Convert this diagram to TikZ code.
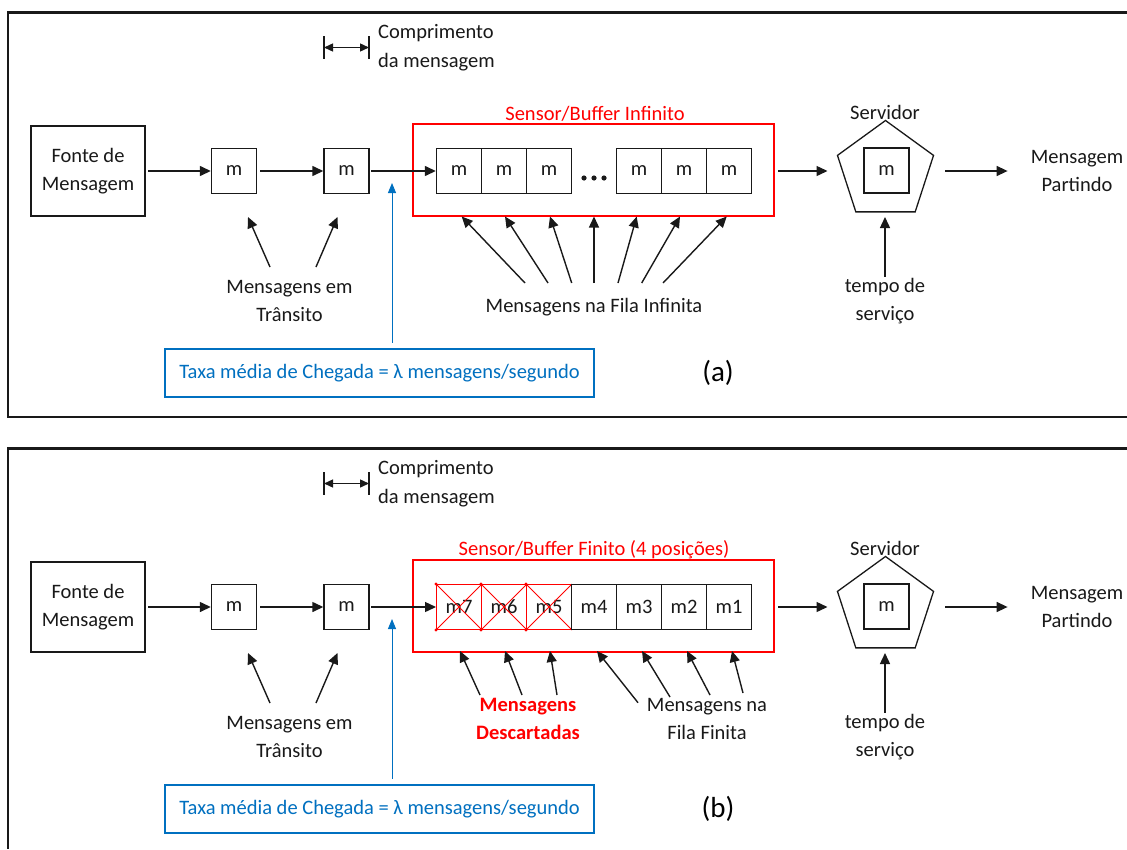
\documentclass[tikz,border=0pt]{standalone}
\usepackage{fontspec}
\setmainfont{Carlito}
\usetikzlibrary{arrows.meta,shapes.geometric}

\definecolor{ofred}{RGB}{255,0,0}
\definecolor{ofblue}{RGB}{0,112,192}
\definecolor{ink}{RGB}{25,25,25}

\tikzset{
  frame/.style={line width=2.8pt, draw=ink},
  txt/.style={font=\fontsize{20.5}{28.5}\selectfont, text=ink, align=center, inner sep=0pt},
  srcbox/.style={txt, draw=ink, line width=1.4pt, minimum width=114pt, minimum height=90pt},
  msgbox/.style={draw=ink, line width=1.4pt, minimum width=45pt, minimum height=45pt,
    inner sep=0pt, font=\fontsize{20.5}{24}\selectfont, text=ink},
  dropbox/.style={msgbox, draw=ofred, line width=1pt},
  flow/.style={line width=1.4pt, draw=ink, -{Triangle[length=11pt,width=10pt]}},
  rateptr/.style={line width=1pt, draw=ofblue, -{Triangle[length=10pt,width=8pt]}},
  buffer/.style={draw=ofred, line width=2.8pt, inner sep=0pt, minimum width=361pt, minimum height=92pt},
  ratebox/.style={draw=ofblue, line width=2.8pt, minimum width=429pt, minimum height=48pt,
    inner sep=0pt, text=ofblue, font=\fontsize{20.5}{24}\selectfont},
  server/.style={draw=ink, line width=1.3pt, regular polygon, regular polygon sides=5,
    minimum size=101pt, inner sep=0pt},
  tag/.style={font=\fontsize{29}{32}\selectfont, text=black, inner sep=0pt}
}

\begin{document}
\begin{tikzpicture}[x=1pt,y=-1pt]
\useasboundingbox (0,0) rectangle (1127,849);
\fill[white] (0,0) rectangle (1127,849);

% panel frames (open on the right, lower one runs off the page)
\draw[frame] (1127,12.5) -- (8,12.5) -- (8,417) -- (1127,417);
\draw[frame] (1127,448.5) -- (8,448.5) -- (8,849);

% parts shared by both panels
\foreach \p/\dy/\tg in {a/0/(a),b/436/(b)}{
\begin{scope}[yshift=-\dy pt]
  \node[srcbox] (\p-src) at (88,171) {Fonte de\\Mensagem};
  \node[msgbox] (\p-m1) at (234,171) {m};
  \node[msgbox] (\p-m2) at (346.5,171) {m};

  % message length marker
  \coordinate (\p-ml) at (324,47.5);
  \coordinate (\p-mr) at (369,47.5);
  \draw[line width=1.4pt, draw=ink] ([yshift=11.5pt]\p-ml) -- ([yshift=-11.5pt]\p-ml);
  \draw[line width=1.4pt, draw=ink] ([yshift=11.5pt]\p-mr) -- ([yshift=-11.5pt]\p-mr);
  \draw[line width=1.4pt, draw=ink, {Triangle[length=9pt,width=8pt]}-{Triangle[length=9pt,width=8pt]}]
    (\p-ml) -- (\p-mr);
  \node[txt, align=left, anchor=west] (\p-len) at (378,47.5) {Comprimento\\da mensagem};

  % buffer and server
  \node[buffer] (\p-buf) at (593.5,170) {};
  \node[server] (\p-srv) at (885.5,171) {};
  \node[msgbox] (\p-sm) at (886.5,170.5) {m};
  \node[txt] (\p-srvlbl) at (885,112) {Servidor};
  \node[txt] (\p-out) at (1077,171) {Mensagem\\Partindo};
  \node[txt] (\p-tempo) at (885,301) {tempo de\\serviço};
  \coordinate (\p-in) at ([xshift=-58pt]\p-srv.center);

  % flow along the line
  \draw[flow, shorten <=2.5pt] (\p-src.east) -- (\p-m1.west);
  \draw[flow, shorten <=3pt] (\p-m1.east) -- (\p-m2.west);
  \draw[flow, shorten <=13pt] (765,171) -- (\p-in);
  \draw[flow] ([xshift=59.5pt]\p-srv.center) -- ([xshift=-23pt]\p-out.west);
  \draw[flow] ([yshift=1pt]\p-tempo.north) -- (885,217);

  % messages in transit
  \node[txt] (\p-trans) at (289.5,301) {Mensagens em\\Trânsito};
  \draw[flow] (270,267) -- (248,217);
  \draw[flow] (316,267) -- (337.5,217);

  % arrival rate
  \node[ratebox] (\p-rate) at (379.5,373) {Taxa média de Chegada = λ mensagens/segundo};
  \coordinate (\p-arr) at (392,183);
  \draw[rateptr] ([xshift=12.5pt,yshift=5pt]\p-rate.north) -- (\p-arr);

  \node[tag] (\p-tag) at (718,373) {\tg};
\end{scope}
}

% (a) infinite buffer
\foreach \k/\x in {1/459,2/504,3/549,5/639,6/684,7/729}
  \node[msgbox] (a-c\k) at (\x,171) {m};
\draw[flow, shorten <=1.5pt] (a-m2.east) -- (a-c1.west);
\foreach \d in {584,594,604}
  \fill[ink] (\d,178) circle (2.6pt);
\node[txt, text=ofred] (a-title) at (595,114) {Sensor/Buffer Infinito};
\node[txt] (a-fila) at (594,307) {Mensagens na Fila Infinita};
\foreach \bx/\tx in {525/461.7,548/505,571.7/550,594/594,618/636.7,641.7/680,663/726.7}
  \draw[flow] (\bx,283) -- (\tx,216.5);

% (b) finite buffer, four positions
\begin{scope}[yshift=-436pt]
  \foreach \k/\x in {1/459,2/504,3/549,4/594,5/639,6/684,7/729}{
    \pgfmathtruncatemacro\lab{8-\k}
    \ifnum\k<4
      \node[dropbox] (b-c\k) at (\x,171) {m\lab};
      \draw[ofred, line width=0.9pt] (b-c\k.north west) -- (b-c\k.south east);
      \draw[ofred, line width=0.9pt] (b-c\k.south west) -- (b-c\k.north east);
      \fill[ofred] (b-c\k.north west) circle (1.7pt);
      \fill[ofred] (b-c\k.south west) circle (1.7pt);
    \else
      \node[msgbox] (b-c\k) at (\x,171) {m\lab};
    \fi
  }
  \draw[flow, shorten <=1.5pt] (b-m2.east) -- (b-c1.west);
  \node[txt, text=ofred] (b-title) at (594,114) {Sensor/Buffer Finito (4 posições)};
  \node[txt, text=ofred, font=\fontsize{20.5}{28.5}\selectfont\bfseries] (b-drop) at (528,283)
    {Mensagens\\Descartadas};
  \node[txt] (b-fila) at (707,283) {Mensagens na\\Fila Finita};
  \foreach \bx/\by/\tx in {480/259/460,522/259/505,557/259/550,638/266.7/597,670/261/642,710/259/687,743/257/732}
    \draw[flow] (\bx,\by) -- (\tx,215);
\end{scope}
\end{tikzpicture}
\end{document}
